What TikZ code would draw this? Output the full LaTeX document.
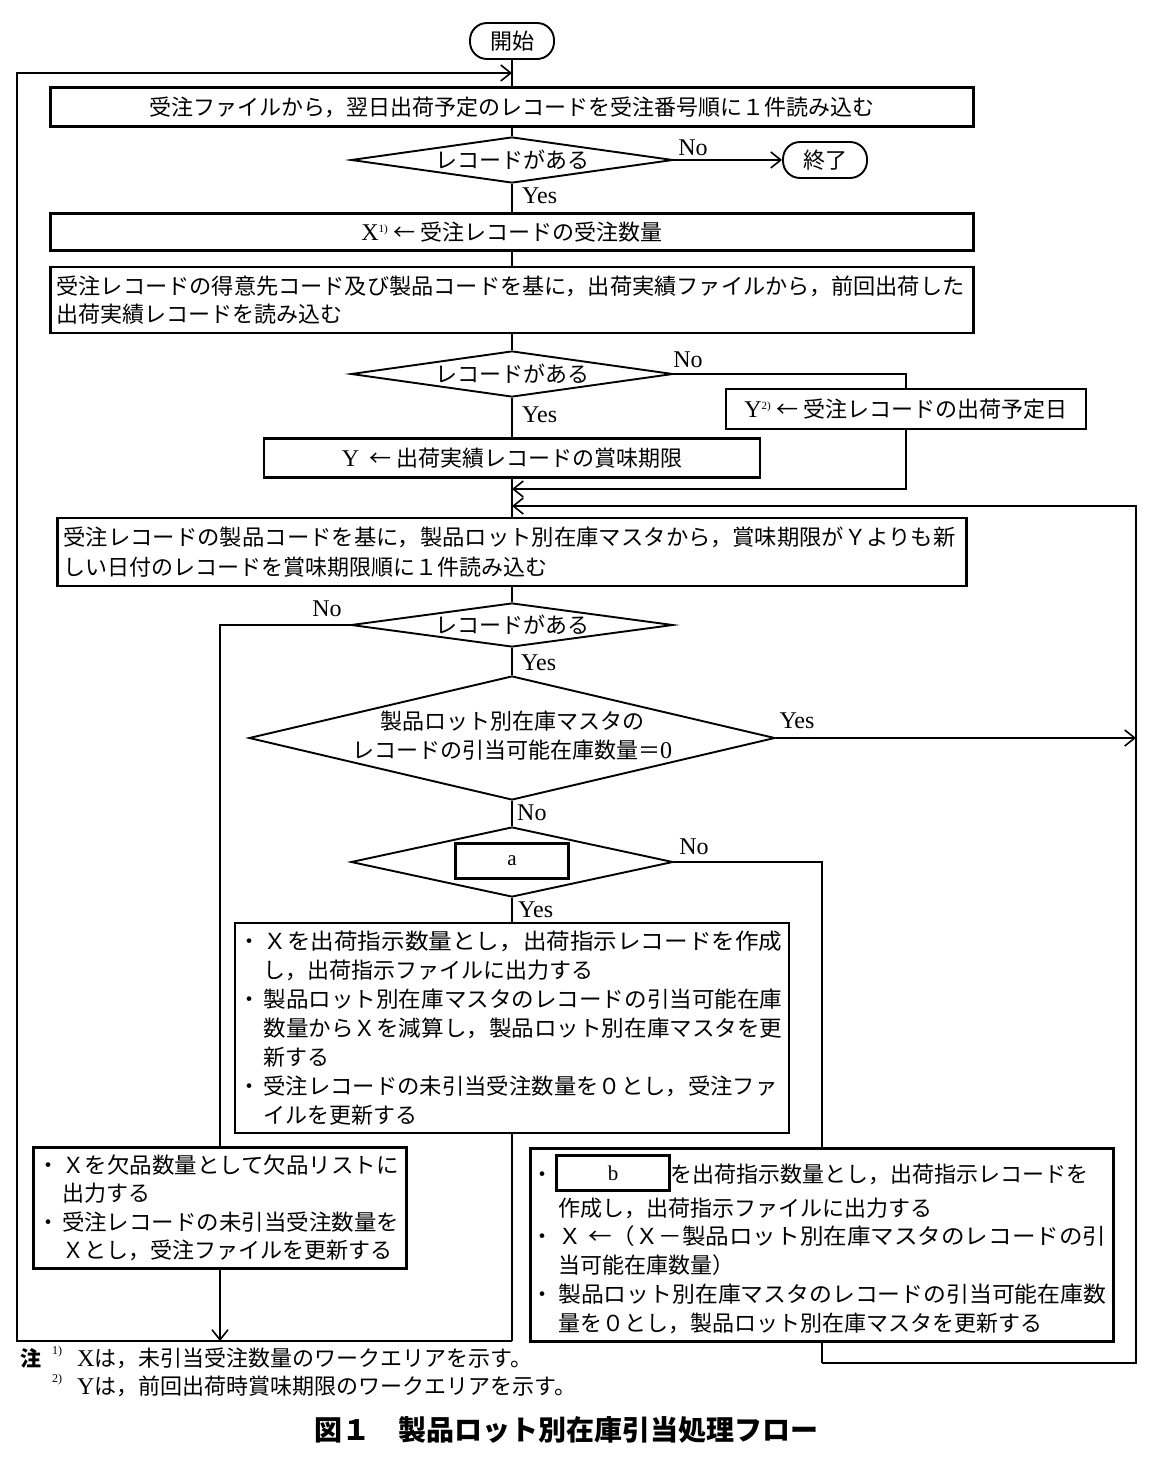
\documentclass[tikz,border=0pt]{standalone}
\usepackage{fontspec}
\usepackage{graphicx}
\setmainfont{Noto Sans CJK JP}
\newfontfamily\lat{Liberation Serif}
\usetikzlibrary{shapes.geometric,arrows.meta}
\newcommand\wfit[2]{\resizebox{#1pt}{\height}{#2}}
\newcommand\bul{\makebox[28.5pt][l]{\hspace{3.5pt}・}}
\newcommand\bindent{\hspace*{28.5pt}}
\newcommand\fsz[2]{\fontsize{#1}{#2}\selectfont}
\newcommand\LX[1]{{\lat\fsz{24}{24}#1}}
\begin{document}
\begin{tikzpicture}[x=1pt,y=-1pt,
  every node/.style={font=\fsz{22}{28}},
  box/.style={draw, line width=2.1pt, inner sep=0pt},
  dia/.style={draw, diamond, line width=1.9pt, inner sep=0pt},
  term/.style={draw, rounded corners=17pt, line width=1.9pt, minimum width=84pt, minimum height=36pt, inner sep=0pt},
  conn/.style={line width=1.6pt},
  arr/.style={conn, -{Straight Barb[length=10pt,width=16pt]}},
  lbl/.style={font=\lat\fsz{24}{24}, inner sep=0pt},
  slot/.style={draw, line width=2.8pt, minimum width=113pt, minimum height=35pt, inner sep=0pt, font=\lat\fsz{21}{21}},
  txt/.style={inner sep=0pt}
]
\fill[white] (0,0) rectangle (1160,1463);
\useasboundingbox (0,0) rectangle (1160,1463);

% terminals
\node[term] (start) at (512,41) {開始};
\node[term] (end) at (825,160) {終了};

% process boxes
\node[box, minimum width=923pt, minimum height=39pt] (box1) at (512,107) {受注ファイルから，翌日出荷予定のレコードを受注番号順に１件読み込む};
\node[dia, minimum width=322pt, minimum height=46pt] (d1) at (512,160) {};
\node[txt] (d1t) at (d1) {レコードがある};
\node[box, minimum width=923pt, minimum height=37pt] (box2) at (512,232) {\LX{X}\raisebox{8pt}{\lat\fsz{11}{11}1)}\hspace{6pt}← 受注レコードの受注数量};
\node[box, minimum width=923pt, minimum height=66pt, text width=911pt, inner xsep=6pt, align=left, font=\fsz{22}{28}] (box3) at (512,300) {\wfit{908}{受注レコードの得意先コード及び製品コードを基に，出荷実績ファイルから，前回出荷した}\\出荷実績レコードを読み込む};
\node[dia, minimum width=322pt, minimum height=46pt] (d2) at (512,374) {};
\node[txt] (d2t) at (d2) {レコードがある};
\node[box, minimum width=360pt, minimum height=40pt] (y2) at (906,409) {\LX{Y}\raisebox{8pt}{\lat\fsz{11}{11}2)}\hspace{6pt}← 受注レコードの出荷予定日};
\node[box, minimum width=496pt, minimum height=39pt] (by) at (512,458) {\LX{Y}\hspace{10pt}← 出荷実績レコードの賞味期限};
\node[box, minimum width=909pt, minimum height=68pt, text width=897pt, inner xsep=6pt, align=left, font=\fsz{22}{30}] (box4) at (512,552) {\wfit{892}{受注レコードの製品コードを基に，製品ロット別在庫マスタから，賞味期限がＹよりも新}\\しい日付のレコードを賞味期限順に１件読み込む};
\node[dia, minimum width=322pt, minimum height=44pt] (d3) at (512,625) {};
\node[txt] (d3t) at (d3) {レコードがある};
\node[dia, minimum width=526pt, minimum height=124pt] (d4) at (512,738) {};
\node[txt, align=center, font=\fsz{22}{29}] (d4t) at (512,736) {製品ロット別在庫マスタの\\レコードの引当可能在庫数量＝\LX{0}};
\node[dia, minimum width=322pt, minimum height=70pt] (d5) at (512,862) {};
\node[slot] (sa) at (512,861) {a};

\node[box, minimum width=554pt, minimum height=210pt, text width=554pt, inner xsep=0pt, align=left, font=\fsz{22}{29}] (box5) at (512,1028) {%
\bul\wfit{519}{Ｘを出荷指示数量とし，出荷指示レコードを作成}\\
\bindent し，出荷指示ファイルに出力する\\
\bul\wfit{519}{製品ロット別在庫マスタのレコードの引当可能在庫}\\
\bindent\wfit{519}{数量からＸを減算し，製品ロット別在庫マスタを更}\\
\bindent 新する\\
\bul\wfit{514}{受注レコードの未引当受注数量を０とし，受注ファ}\\
\bindent イルを更新する};

\node[box, minimum width=373pt, minimum height=121pt, text width=373pt, inner xsep=0pt, align=left, font=\fsz{22}{28.5}] (xs) at (220,1208) {%
\bul\wfit{337}{Ｘを欠品数量として欠品リストに}\\
\bindent 出力する\\
\bul\wfit{337}{受注レコードの未引当受注数量を}\\
\bindent\wfit{331}{Ｘとし，受注ファイルを更新する}};

\node[box, minimum width=583pt, minimum height=193pt] (bb) at (822,1245) {};
\node[txt] (bb1d) at (542,1174) {\vphantom{出}・};
\node[slot] (sb) at (613,1173) {b};
\node[txt, anchor=west] (bb1) at (670,1174) {を出荷指示数量とし，出荷指示レコードを};
\node[txt, anchor=west] (bb2) at (558,1208) {作成し，出荷指示ファイルに出力する};
\node[txt] (bb3d) at (542,1236) {\vphantom{出}・};
\node[txt, anchor=west] (bb3) at (558,1236) {\wfit{548}{Ｘ\hspace{6pt}←（Ｘ－製品ロット別在庫マスタのレコードの引}};
\node[txt, anchor=west] (bb4) at (558,1265) {当可能在庫数量）};
\node[txt] (bb5d) at (542,1294) {\vphantom{出}・};
\node[txt, anchor=west] (bb5) at (558,1294) {\wfit{548}{製品ロット別在庫マスタのレコードの引当可能在庫数}};
\node[txt, anchor=west] (bb6) at (558,1323) {量を０とし，製品ロット別在庫マスタを更新する};

% labels
\node[lbl] (no1) at (693,148) {No};
\node[lbl, anchor=west] (yes1) at (522,196) {Yes};
\node[lbl] (no2) at (688,360) {No};
\node[lbl, anchor=west] (yes2) at (522,415) {Yes};
\node[lbl] (no3) at (327,609) {No};
\node[lbl, anchor=west] (yes3) at (521,663) {Yes};
\node[lbl] (yes4) at (797,721) {Yes};
\node[lbl, anchor=west] (no4) at (517,813) {No};
\node[lbl] (no5) at (694,847) {No};
\node[lbl, anchor=west] (yes5) at (518,910) {Yes};

% coordinates
\coordinate (j1) at (512,73);
\coordinate (lt) at (17,73);
\coordinate (lb) at (17,1341);
\coordinate (b5) at (512,1341);
\coordinate (xsb) at (220,1341);
\coordinate (j2) at (512,489);
\coordinate (j3) at (512,506);
\coordinate (rt) at (1136,506);
\coordinate (rbr) at (1136,1363);
\coordinate (rb) at (822,1363);
\coordinate (ry) at (1136,738);

% connectors
\draw[conn] (start) -- (box1);
\draw[conn] (box1) -- (d1);
\draw[arr] (d1.east) -- (end.west);
\draw[conn] (d1) -- (box2);
\draw[conn] (box2) -- (box3);
\draw[conn] (box3) -- (d2);
\draw[conn] (d2) -- (by);
\draw[conn] (d2.east) -| (y2.north);
\draw[arr] (y2.south) |- (j2);
\draw[conn] (by) -- (box4);
\draw[arr] (rb) -- (rbr) -- (rt) -- (j3);
\draw[conn] (bb.south) -- (rb);
\draw[conn] (box4) -- (d3);
\draw[conn] (d3.west) -| (xs.north);
\draw[conn] (d3) -- (d4);
\draw[arr] (d4.east) -- (ry);
\draw[conn] (d4) -- (d5);
\draw[conn] (d5) -- (box5);
\draw[conn] (d5.east) -| (bb.north);
\draw[conn] (box5.south) -- (b5);
\draw[arr] (xs.south) -- (xsb);
\draw[arr] (b5) -- (lb) -- (lt) -- (j1);

% notes
\node[txt, font=\bfseries\fsz{21}{21}] (n0) at (31,1358) {注};
\node[txt, font=\lat\fsz{12}{12}] (n1s) at (57,1352) {1)};
\node[txt, anchor=west] (n1) at (77,1358) {\LX{X}は，未引当受注数量のワークエリアを示す。};
\node[txt, font=\lat\fsz{12}{12}] (n2s) at (57,1380) {2)};
\node[txt, anchor=west] (n2) at (77,1386) {\LX{Y}は，前回出荷時賞味期限のワークエリアを示す。};
\node[txt, font=\bfseries\fsz{28}{28}] (title) at (566,1430) {図１　製品ロット別在庫引当処理フロー};
\end{tikzpicture}
\end{document}
